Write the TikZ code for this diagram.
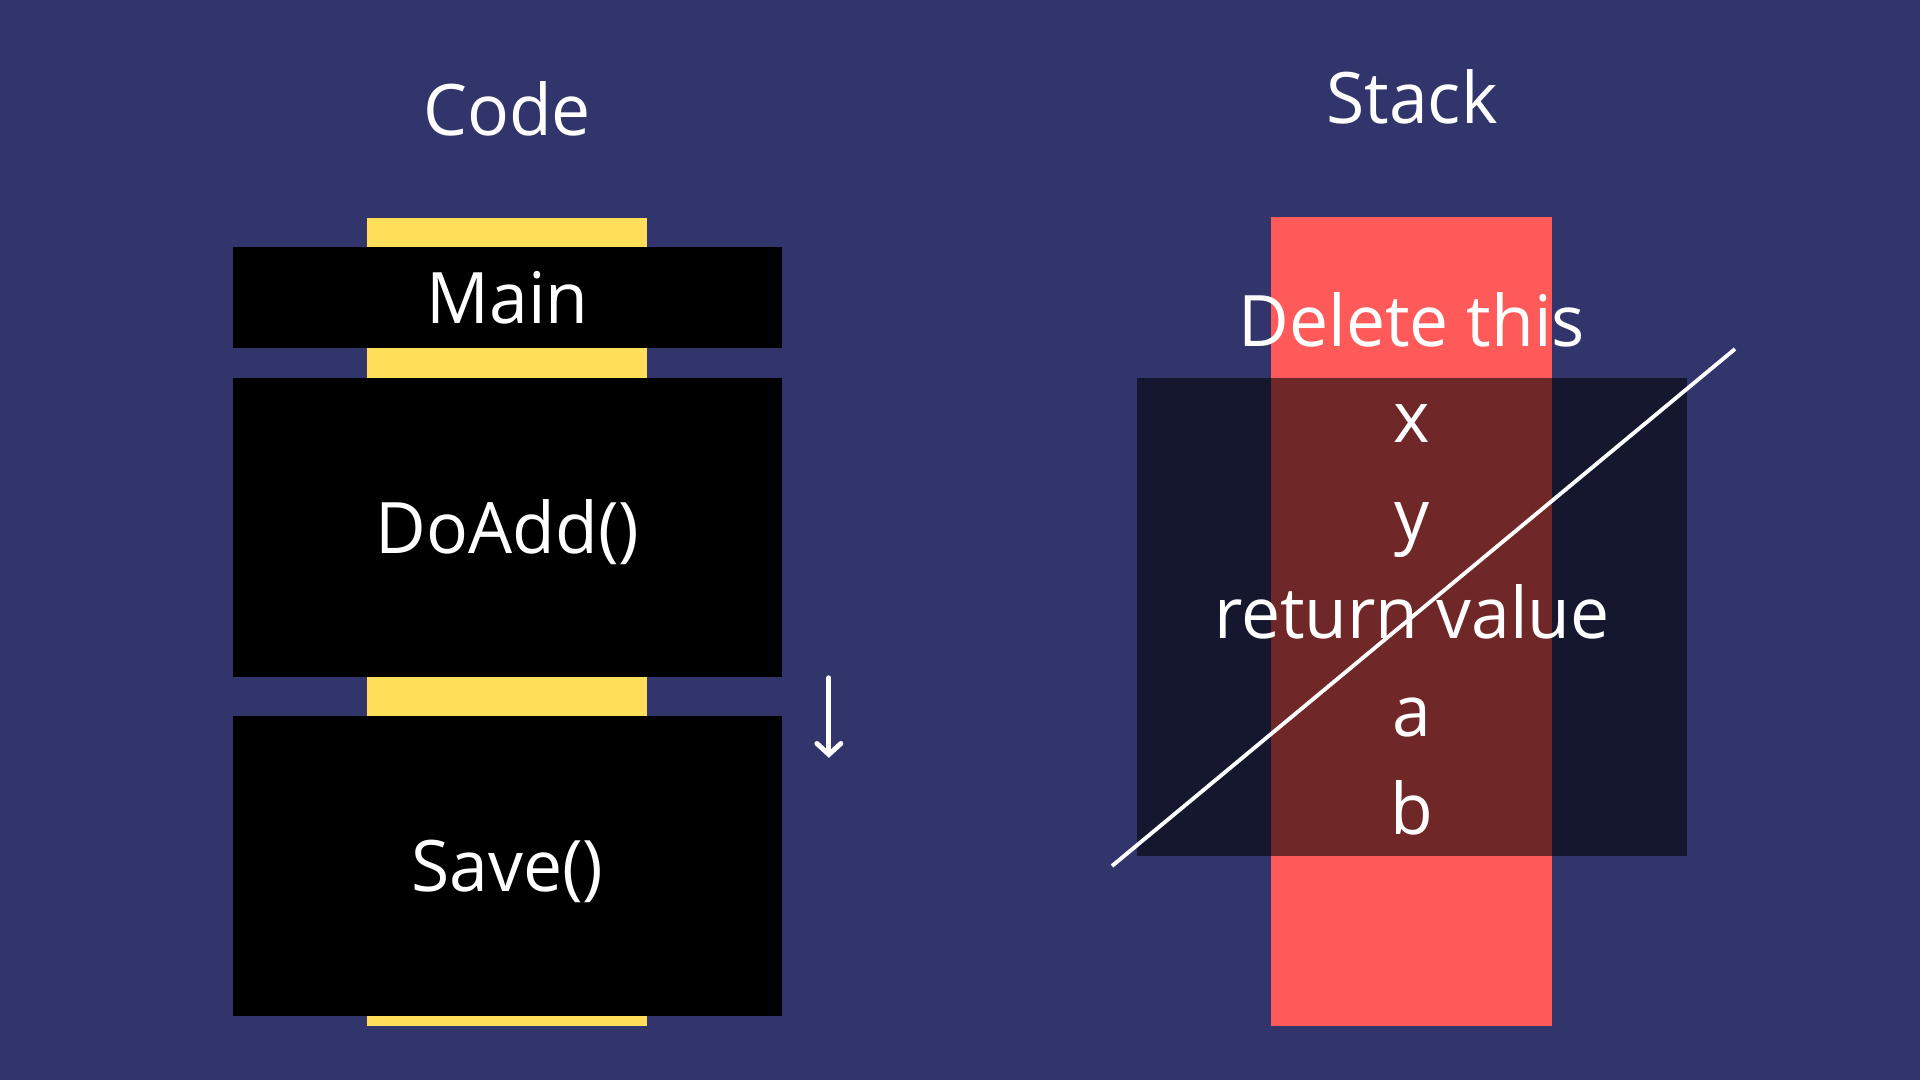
\documentclass[tikz,border=0pt]{standalone}
\usepackage{fontspec}
\setmainfont[FakeStretch=0.98]{Open Sans}
\usetikzlibrary{arrows.meta, positioning}

\definecolor{slide}{RGB}{49,53,108}
\definecolor{callbar}{RGB}{255,222,89}
\definecolor{stackred}{RGB}{255,90,90}

\begin{document}
\begin{tikzpicture}[x=0.01cm, y=-0.01cm,
      every node/.style={inner sep=0pt, text=white, font=\fontsize{20.2}{25}\selectfont},
      fnbox/.style={rectangle, fill=black, minimum width=5.49cm, text height=0.51cm, text depth=0pt},
      column/.style={rectangle, minimum width=2.8cm, minimum height=8.08cm},
      item/.style={anchor=base}]

      % background and page size
      \fill[slide] (0,0) rectangle (1920,1080);
      \useasboundingbox (0,0) rectangle (1920,1080);

      % Code side
      \node[item] (codetitle) at (507,136) {Code};
      \node[column, fill=callbar] (bar) at (507,622) {};
      \node[fnbox, minimum height=1.01cm] (mainfn) at (507.5,297.5) {Main};
      \node[fnbox, minimum height=2.99cm] (doadd) at (507.5,527.5) {DoAdd()};
      \node[fnbox, minimum height=3.00cm] (save) at (507.5,866) {Save()};

      \coordinate[right=0.46cm of doadd.south east] (flowtop);
      \coordinate[below=0.8cm of flowtop] (flowtip);
      \draw[white, line width=1.4pt, line cap=round,
        -{Straight Barb[length=1.1mm, width=2.4mm, line cap=round]}] (flowtop) -- (flowtip);

      % Stack side
      \node[item] (stacktitle) at (1412,124) {Stack};
      \node[column, fill=stackred] (stackcol) at (1411.5,621.5) {};
      \node[item] (delnote) at (1412,347) {Delete this};
      \node[rectangle, fill=black, fill opacity=0.56, minimum width=5.5cm, minimum height=4.78cm] (frame) at (1412,617) {};

      \foreach \t [count=\i] in {x, y, return value, a, b} {
        \node[item] (entry\i) at (1412,345+98*\i) {\t};
      }

      % strike through the frame
      \coordinate (strikestart) at (1112,866);
      \coordinate (strikeend) at (1735,349);
      \draw[white, line width=1.1pt] (strikestart) -- (strikeend);
    \end{tikzpicture}
\end{document}
